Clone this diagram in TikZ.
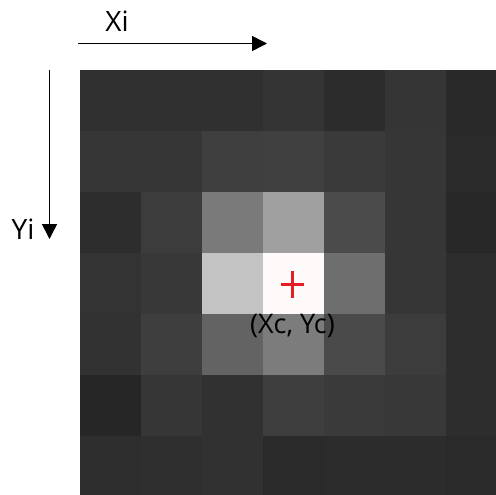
\documentclass[tikz,border=0pt]{standalone}
\usepackage{fontspec}
\setmainfont{Open Sans}
\usetikzlibrary{arrows.meta}
\tikzset{
  axisarrow/.style={line width=1.6pt, -{Triangle[length=15pt,width=15pt]}},
  axislabel/.style={font=\fontsize{28}{30}\selectfont, inner sep=0pt, anchor=base},
  centrelabel/.style={font=\fontsize{27}{29}\selectfont, inner sep=0pt, anchor=base},
  crossmark/.style={draw={rgb,255:red,229;green,30;blue,38}, line width=3pt}
}
\begin{document}
\begin{tikzpicture}[x=1pt,y=-1pt]
\useasboundingbox (0,0) rectangle (496,495);

% pixel intensity grid (7x7 cells of 61 units)
\begin{scope}
  \clip (80,70) rectangle (496,495);
  \foreach \r/\vals in {
      0/{48,48,48,52,44,53,41},
      1/{54,54,63,64,58,54,42},
      2/{45,60,122,160,75,54,40},
      3/{51,56,195,255,110,54,45},
      4/{50,62,99,124,74,60,45},
      5/{38,54,49,62,58,56,45},
      6/{46,47,49,42,44,44,42}} {
    \foreach \v [count=\c from 0] in \vals {
      \fill[color={rgb,255:red,\v;green,\v;blue,\v}]
        ({80+61*\c},{70+61*\r}) rectangle ({80+61*\c+61},{70+61*\r+61});
    }
  }
\end{scope}

% brightest cell with a faint warm tint
\fill[color={rgb,255:red,255;green,250;blue,250}] (263,253) rectangle (324,314);

% centroid marker
\coordinate (cc) at (292.5,284.7);
\draw[crossmark] ([xshift=-11.5pt]cc) -- ([xshift=11.5pt]cc);
\draw[crossmark] ([yshift=13.3pt]cc) -- ([yshift=-13.3pt]cc);
\node[centrelabel] (clabel) at (292.5,333) {(Xc, Yc)};

% image axes
\coordinate (xstart) at (78,43.5);
\coordinate (xend) at (267,43.5);
\draw[axisarrow] (xstart) -- (xend);
\node[axislabel] (xlabel) at (117,32) {Xi};

\coordinate (ystart) at (49.5,70);
\coordinate (yend) at (49.5,239);
\draw[axisarrow] (ystart) -- (yend);
\node[axislabel] (ylabel) at (23,239) {Yi};
\end{tikzpicture}
\end{document}
